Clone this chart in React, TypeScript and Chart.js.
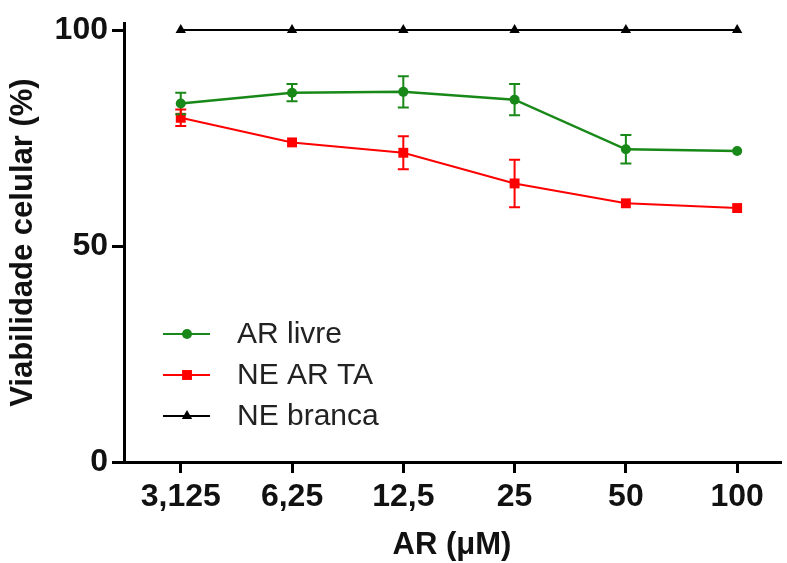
import React, { useEffect, useRef } from 'react';
import { Chart, registerables } from 'chart.js';

Chart.register(...registerables);

const concentrations = ['3,125', '6,25', '12,5', '25', '50', '100'];
const arLivre = [83.0, 85.5, 85.7, 83.9, 72.4, 72.0];
const arLivreErr = [2.5, 2.0, 3.6, 3.6, 3.3, 0];
const neArTa = [79.7, 74.0, 71.6, 64.5, 59.9, 58.8];
const neArTaErr = [1.9, 0, 3.8, 5.5, 0, 0];
const neBranca = [100, 100, 100, 100, 100, 100];
const neBrancaErr = [0, 0, 0, 0, 0, 0];
const yTicks = [0, 50, 100];

const FONT = '"Liberation Sans", Arial, Helvetica, sans-serif';
const GREEN = '#188818';
const RED = '#ff0000';
const BLACK = '#000000';

const errorBarPlugin = {
  id: 'errorBars',
  afterDatasetsDraw(chart: any) {
    const ctx = chart.ctx;
    const ys = chart.scales.y;
    chart.data.datasets.forEach((ds: any, di: number) => {
      const errs: number[] = ds.errors || [];
      const meta = chart.getDatasetMeta(di);
      meta.data.forEach((pt: any, i: number) => {
        const e = errs[i];
        if (!e) return;
        const v = ds.data[i].y;
        const yTop = ys.getPixelForValue(v + e);
        const yBot = ys.getPixelForValue(v - e);
        const x = pt.x;
        ctx.save();
        ctx.strokeStyle = ds.borderColor;
        ctx.lineWidth = 2;
        ctx.beginPath();
        ctx.moveTo(x, yTop);
        ctx.lineTo(x, yBot);
        ctx.moveTo(x - 5.5, yTop);
        ctx.lineTo(x + 5.5, yTop);
        ctx.moveTo(x - 5.5, yBot);
        ctx.lineTo(x + 5.5, yBot);
        ctx.stroke();
        ctx.restore();
      });
    });
  },
};

function drawMarker(ctx: any, style: string, x: number, y: number, r: number, color: string) {
  ctx.fillStyle = color;
  ctx.beginPath();
  if (style === 'circle') {
    ctx.arc(x, y, r, 0, Math.PI * 2);
  } else if (style === 'rect') {
    const s = Math.SQRT1_2 * r;
    ctx.rect(x - s, y - s, 2 * s, 2 * s);
  } else {
    const w = (r * Math.sqrt(3)) / 2;
    ctx.moveTo(x, y - r);
    ctx.lineTo(x + w, y + r / 2);
    ctx.lineTo(x - w, y + r / 2);
    ctx.closePath();
  }
  ctx.fill();
}

const legendPlugin = {
  id: 'insideLegend',
  afterDraw(chart: any) {
    const ctx = chart.ctx;
    const rows = [334, 375, 416];
    chart.data.datasets.forEach((ds: any, i: number) => {
      const y = rows[i];
      ctx.save();
      ctx.strokeStyle = ds.borderColor;
      ctx.lineWidth = 2;
      ctx.beginPath();
      ctx.moveTo(163, y);
      ctx.lineTo(210, y);
      ctx.stroke();
      drawMarker(ctx, ds.pointStyle, 187, y, ds.legendRadius, ds.borderColor);
      ctx.fillStyle = '#222';
      ctx.font = `30px ${FONT}`;
      ctx.textBaseline = 'middle';
      ctx.textAlign = 'left';
      ctx.fillText(ds.label, 237, y + 1);
      ctx.restore();
    });
  },
};

export default function App() {
  const ref = useRef<HTMLCanvasElement | null>(null);

  useEffect(() => {
    if (!ref.current) return;
    const toPts = (arr: number[]) => arr.map((v, i) => ({ x: i, y: v }));
    const chart = new Chart(ref.current, {
      type: 'line',
      data: {
        datasets: [
          {
            label: 'AR livre',
            data: toPts(arLivre),
            errors: arLivreErr,
            borderColor: GREEN,
            backgroundColor: GREEN,
            borderWidth: 2.5,
            pointStyle: 'circle',
            pointRadius: 5,
            legendRadius: 5,
            pointBorderWidth: 0,
            clip: false,
          } as any,
          {
            label: 'NE AR TA',
            data: toPts(neArTa),
            errors: neArTaErr,
            borderColor: RED,
            backgroundColor: RED,
            borderWidth: 2,
            pointStyle: 'rect',
            pointRadius: 7,
            legendRadius: 7,
            pointBorderWidth: 0,
            clip: false,
          } as any,
          {
            label: 'NE branca',
            data: toPts(neBranca),
            errors: neBrancaErr,
            borderColor: BLACK,
            backgroundColor: BLACK,
            borderWidth: 2,
            pointStyle: 'triangle',
            pointRadius: 6,
            legendRadius: 6,
            pointBorderWidth: 0,
            clip: false,
          } as any,
        ],
      },
      options: {
        animation: false,
        responsive: false,
        layout: { padding: { left: 0, right: 5, top: 18, bottom: 0 } },
        plugins: {
          legend: { display: false },
          tooltip: { enabled: false },
        },
        elements: { line: { tension: 0 } },
        scales: {
          x: {
            type: 'linear',
            min: -0.51,
            max: 5.385,
            afterBuildTicks: (s: any) => {
              s.ticks = concentrations.map((_, i) => ({ value: i }));
            },
            afterFit: (s: any) => {
              s.height = 101;
            },
            ticks: {
              callback: (v: any) => concentrations[v as number] ?? '',
              color: '#111',
              font: { family: FONT, size: 32, weight: 'bold' },
              padding: 5,
              maxRotation: 0,
              autoSkip: false,
            },
            grid: {
              drawOnChartArea: false,
              drawTicks: true,
              tickLength: 11,
              lineWidth: 3,
              color: BLACK,
            },
            border: { display: true, width: 3, color: BLACK },
            title: {
              display: true,
              text: 'AR (μM)',
              color: '#111',
              font: { family: FONT, size: 31, weight: 'bold', lineHeight: 1.1 },
              padding: { top: 0, bottom: 0 },
            },
          },
          y: {
            type: 'linear',
            min: 0,
            max: 101.6,
            afterBuildTicks: (s: any) => {
              s.ticks = yTicks.map((v) => ({ value: v }));
            },
            afterFit: (s: any) => {
              s.width = 124;
            },
            ticks: {
              color: '#111',
              font: { family: FONT, size: 32, weight: 'bold' },
              padding: 4,
            },
            grid: {
              drawOnChartArea: false,
              drawTicks: true,
              tickLength: 12,
              lineWidth: 3,
              color: BLACK,
            },
            border: { display: true, width: 3, color: BLACK },
            title: {
              display: true,
              text: 'Viabilidade celular (%)',
              color: '#111',
              font: { family: FONT, size: 31, weight: 'bold', lineHeight: 1.2 },
              padding: { top: 5, bottom: 0 },
            },
          },
        },
      } as any,
      plugins: [errorBarPlugin, legendPlugin],
    });
    return () => chart.destroy();
  }, []);

  return (
    <div style={{ position: 'fixed', left: 0, top: 0, width: 787, height: 563, background: '#fff' }}>
      <canvas ref={ref} width={787} height={563} style={{ width: 787, height: 563, display: 'block' }} />
    </div>
  );
}
